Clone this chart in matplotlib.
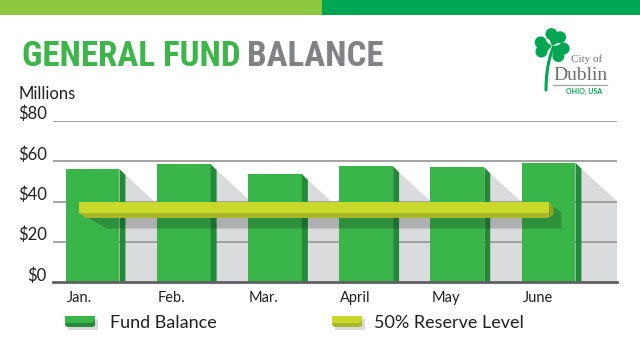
import numpy as np
import matplotlib.pyplot as plt
from matplotlib.patches import Polygon, Rectangle, Circle
from matplotlib.transforms import ScaledTranslation

months = ['Jan.', 'Feb.', 'Mar.', 'April', 'May', 'June']
fund_balance = [56.1, 58.5, 53.6, 57.4, 56.9, 59.2]
reserve_level = 37.0
y_ticks = [0, 20, 40, 60, 80]
y_labels = ['$0', '$20', '$40', '$60', '$80']

GREEN = '#3ab54a'
GREEN_SIDE = '#25893a'
SHADOW = '#dadbdd'
LIME = '#c8d92b'
LIME_DARK = '#a9b82a'
LIME_SIDE = '#98a621'
GRID = '#9b9b9b'
INK = '#231f20'
LOGO_GREEN = '#00a651'
SANS = ['Lato', 'DejaVu Sans']
TITLE_FONT = ['Roboto Condensed', 'Open Sans Condensed', 'DejaVu Sans']

W, H = 640, 352
fig = plt.figure(figsize=(6.4, 3.52), dpi=100)

# decoration layer, 1 unit = 1 pixel, y downwards
bg = fig.add_axes([0, 0, 1, 1])
bg.set_xlim(0, W)
bg.set_ylim(H, 0)
bg.axis('off')
bg.add_patch(Rectangle((0, 0), 322, 15, color='#8dc63f', lw=0))
bg.add_patch(Rectangle((322, 0), W - 322, 15, color=LOGO_GREEN, lw=0))

# title, shrunk to the reference width if the font is too wide
t1 = bg.text(22, 67, 'GENERAL FUND', family=TITLE_FONT, stretch='condensed',
             weight='bold', size=31, color='#3db54a', va='baseline')
t2 = bg.annotate('BALANCE', xy=(1, 0), xycoords=t1, xytext=(6, 0), textcoords='offset points',
                 family=TITLE_FONT, stretch='condensed', weight='bold',
                 size=31, color='#808285', va='bottom', ha='left')
fig.canvas.draw()
ren = fig.canvas.get_renderer()
total = t2.get_window_extent(ren).x1 - t1.get_window_extent(ren).x0
if total > 362:
    k = 362 / total
    t1.set_fontsize(31 * k)
    t2.set_fontsize(31 * k)
    t2.xyann = (6 * k, 0)
    t1.set_y(67 - (1 - k) * 6)

bg.text(18, 99, 'Millions', family=SANS, size=12, color=INK, va='baseline')

# logo
c = np.array([552.0, 46.0])
for ang in [-70, 175, 35]:
    a = np.deg2rad(ang)
    d = np.array([np.cos(a), np.sin(a)])
    p = np.array([-d[1], d[0]])
    for s in (-1, 1):
        bg.add_patch(Circle(c + d * 11 + p * 4.6 * s, 6.0, color=LOGO_GREEN, lw=0))
    bg.add_patch(Polygon([c, c + d * 11 + p * 10, c + d * 11 - p * 10], color=LOGO_GREEN, lw=0))
tt = np.linspace(0, 1, 30)
p0, p1, p2 = np.array([553, 48]), np.array([546, 66]), np.array([546, 90])
stem = ((1 - tt) ** 2)[:, None] * p0 + (2 * (1 - tt) * tt)[:, None] * p1 + (tt ** 2)[:, None] * p2
bg.plot(stem[:, 0], stem[:, 1], color=LOGO_GREEN, lw=2.2, solid_capstyle='round')
bg.text(571, 62, 'City of', family=['Liberation Serif', 'DejaVu Serif'], size=8, color='#6d6e71', va='baseline')
bg.text(553, 80, 'Dublin', family=['Liberation Serif', 'DejaVu Serif'], size=14, color='#6d6e71', va='baseline')
bg.plot([553, 607], [84.5, 84.5], color='#a7a9ac', lw=1)
bg.text(602, 94, 'OHIO, USA', family=SANS, weight='bold', size=5, color=LOGO_GREEN, va='baseline', ha='right')

# legend swatches
for x0, face, dark in [(65, GREEN, GREEN_SIDE), (332, LIME, LIME_DARK)]:
    bg.add_patch(Rectangle((x0 + 3, 319), 30, 11, color='#d8d9db', lw=0))
    bg.add_patch(Rectangle((x0, 316), 30, 10, color=face, lw=0))
    bg.add_patch(Polygon([(x0, 323), (x0 + 27, 323), (x0 + 30, 320), (x0 + 30, 326), (x0 + 27, 327), (x0 + 2, 327)],
                         color=dark, lw=0))
bg.text(110, 328, 'Fund Balance', family=SANS, size=13, color=INK, va='baseline')
bg.text(374, 328, '50% Reserve Level', family=SANS, size=13, color=INK, va='baseline')

# chart
ax = fig.add_axes([53 / W, (H - 282.3) / H, 564 / W, 161.6 / H])
ax.set_xlim((53 - 92.5) / 91.2, (617 - 92.5) / 91.2)
ax.set_ylim(0, 80)
for s in ax.spines.values():
    s.set_visible(False)
dx = 1 / 91.2
dy = 80 / 161.6

x = np.arange(len(months))
w = 0.592
ax.bar(x, fund_balance, w, color=GREEN, zorder=3, lw=0)
for xi, v in zip(x, fund_balance):
    xr = xi + w / 2
    ax.add_patch(Polygon([(xr, v), (xr + 6 * dx, v - 6 * dy), (xr + 6 * dx, 0), (xr, 0)],
                         color=GREEN_SIDE, lw=0, zorder=3))
    xs = xr + 6 * dx
    ax.add_patch(Polygon([(xs, v - 6 * dy), (xs + 36 * dx, v - 6 * dy - 33 * dy), (xs + 36 * dx, 0), (xs, 0)],
                         color=SHADOW, lw=0, zorder=1))

for t in y_ticks[1:]:
    ax.axhline(t, color=GRID, lw=1.3, zorder=2)
ax.axhline(0, color='#5f6062', lw=2, zorder=7, clip_on=False)

# reserve level bar
r = reserve_level
x0, x1 = x[0] - 0.148, x[-1] + 0.009
ax.add_patch(Polygon([(x0, r - 5.3 * dy), (x0 + 28 * dx, r - 21 * dy), (x1 + 12 * dx, r - 21 * dy),
                      (x1 + 12 * dx, r - 5 * dy), (x1 + 4 * dx, r + 1 * dy)],
                     color='black', alpha=0.2, lw=0, zorder=5))
ax.fill_between([x0, x1], r - 5.3 * dy, r + 5.3 * dy, color=LIME, lw=0, zorder=6)
ax.add_patch(Polygon([(x0, r - 5.3 * dy), (x1, r - 5.3 * dy), (x1, r - 10 * dy), (x0 + 7 * dx, r - 10 * dy)],
                     color=LIME_DARK, lw=0, zorder=6))
ax.add_patch(Polygon([(x1, r + 4.5 * dy), (x1 + 4 * dx, r + 1 * dy), (x1 + 4 * dx, r - 7 * dy), (x1, r - 10 * dy)],
                     color=LIME_SIDE, lw=0, zorder=6))

# ticks
ax.set_yticks(y_ticks)
ax.set_yticklabels(y_labels, family=SANS, fontsize=12, color=INK)
ax.tick_params(axis='y', length=0, pad=4.5)
shift = ScaledTranslation(0, 0.015, fig.dpi_scale_trans)
for lbl in ax.get_yticklabels():
    lbl.set_va('baseline')
    lbl.set_transform(lbl.get_transform() + shift)
ax.set_xticks(x - w / 2 + dx)
ax.set_xticklabels(months, family=SANS, fontsize=10.5, color=INK, ha='left')
ax.tick_params(axis='x', length=0, pad=6)

fig.savefig('out.png', dpi=100)
